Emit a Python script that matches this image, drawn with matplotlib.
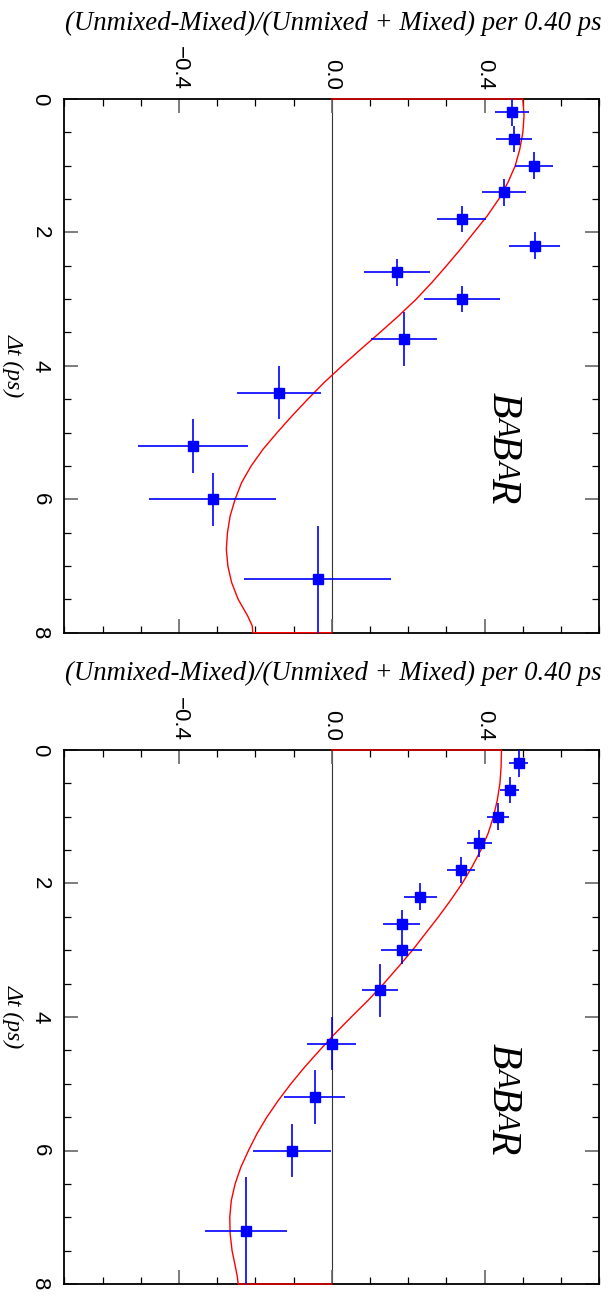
import numpy as np
import matplotlib
matplotlib.use("Agg")
import matplotlib.pyplot as plt
from matplotlib.ticker import MultipleLocator, FixedLocator
from matplotlib.transforms import IdentityTransform

# Delta t bins (ps): centres and half widths
dt_bins = [0.2, 0.6, 1.0, 1.4, 1.8, 2.2, 2.6, 3.0, 3.6, 4.4, 5.2, 6.0, 7.2]
dt_half = [0.2, 0.2, 0.2, 0.2, 0.2, 0.2, 0.2, 0.2, 0.4, 0.4, 0.4, 0.4, 0.8]

# upper panel: asymmetry and its error
asym_1 = [0.472, 0.477, 0.529, 0.450, 0.340, 0.531, 0.170, 0.341, 0.189,
          -0.138, -0.364, -0.312, -0.037]
err_1 = [0.045, 0.047, 0.050, 0.057, 0.064, 0.067, 0.086, 0.100, 0.087,
         0.110, 0.144, 0.167, 0.192]

# lower panel
asym_2 = [0.489, 0.466, 0.436, 0.386, 0.338, 0.232, 0.183, 0.183, 0.126,
          0.000, -0.045, -0.104, -0.224]
err_2 = [0.024, 0.025, 0.029, 0.033, 0.037, 0.042, 0.049, 0.054, 0.046,
         0.064, 0.080, 0.101, 0.108]

# fit curves
fit_t_1 = [0.0, 0.25, 0.5, 0.75, 1.0, 1.25, 1.5, 1.75, 2.0, 2.25, 2.5, 2.75,
           3.0, 3.25, 3.5, 3.75, 4.0, 4.25, 4.5, 4.75, 5.0, 5.25, 5.5, 5.75,
           6.0, 6.25, 6.5, 6.75, 7.0, 7.25, 7.5, 7.75, 7.9, 8.0]
fit_1 = [0.500, 0.503, 0.500, 0.492, 0.480, 0.461, 0.437, 0.407, 0.372,
         0.337, 0.300, 0.262, 0.221, 0.175, 0.126, 0.076, 0.027, -0.020,
         -0.063, -0.104, -0.143, -0.180, -0.211, -0.236, -0.253, -0.266,
         -0.273, -0.276, -0.272, -0.262, -0.245, -0.220, -0.208, -0.207]

fit_t_2 = [0.0, 0.25, 0.5, 0.75, 1.0, 1.25, 1.5, 1.75, 2.0, 2.25, 2.5, 2.75,
           3.0, 3.25, 3.5, 3.75, 4.0, 4.25, 4.5, 4.75, 5.0, 5.25, 5.5, 5.75,
           6.0, 6.25, 6.5, 6.75, 7.0, 7.25, 7.5, 7.75, 7.9, 8.0]
fit_2 = [0.444, 0.443, 0.440, 0.433, 0.423, 0.409, 0.390, 0.367, 0.341,
         0.311, 0.279, 0.245, 0.211, 0.174, 0.136, 0.095, 0.051, 0.008,
         -0.032, -0.071, -0.107, -0.140, -0.170, -0.196, -0.218, -0.238,
         -0.253, -0.263, -0.267, -0.266, -0.261, -0.252, -0.247, -0.245]

title = "(Unmixed-Mixed)/(Unmixed + Mixed) per 0.40 ps"

plt.rcParams['font.family'] = ['Liberation Sans', 'DejaVu Sans']
W, H = 612, 1304
fig = plt.figure(figsize=(W / 100, H / 100), dpi=100)


def draw_panel(rect, asym, err, fit_t, fit_a):
    ax = fig.add_axes(rect)
    ax.axvline(0, color='#333333', lw=0.8, zorder=1)
    # fit line, closed to zero at both ends like the original histogram style
    ax.plot(np.r_[0, fit_a, 0], np.r_[fit_t[0], fit_t, fit_t[-1]],
            color='red', lw=1.0, zorder=3, clip_on=False)
    ax.errorbar(asym, dt_bins, xerr=err, yerr=dt_half, fmt='s', color='blue',
                ms=7.5, lw=1.2, capsize=0, zorder=4)
    ax.set_xlim(-0.7, 0.7)
    ax.set_ylim(8, 0)
    ax.xaxis.set_major_locator(FixedLocator([-0.4, 0.0, 0.4]))
    ax.xaxis.set_minor_locator(MultipleLocator(0.1))
    ax.yaxis.set_major_locator(MultipleLocator(2))
    ax.yaxis.set_minor_locator(MultipleLocator(0.5))
    ax.tick_params(which='both', direction='in', top=True, bottom=True,
                   left=True, right=True, labeltop=True, labelbottom=False,
                   labelsize=16)
    ax.tick_params(which='major', length=10, width=1.2, color='#666666')
    ax.tick_params(which='minor', length=5, width=0.9, color='black')
    ax.tick_params(axis='x', which='major', pad=6.5, labelrotation=-90)
    ax.tick_params(axis='y', which='major', pad=10, labelrotation=-90)
    for lbl in ax.get_yticklabels():
        lbl.set_va('center')
    for s in ax.spines.values():
        s.set_linewidth(1.3)
        s.set_zorder(2.5)
    return ax


def babar(ax):
    r = fig.canvas.get_renderer()
    x0, y0 = ax.transAxes.transform((0.855, 0.4516))
    y = y0
    for ch, size in [('B', 30), ('A', 22), ('B', 30), ('A', 22), ('R', 30)]:
        t = ax.text(x0, y, ch, transform=IdentityTransform(), rotation=-90,
                    ha='right', va='top', fontsize=size, style='italic',
                    family='Liberation Serif')
        bb = t.get_window_extent(renderer=r)
        y -= bb.height * 0.97


panels = [
    ([64.3 / W, 1 - 632.7 / H, 535 / W, 533.7 / H], asym_1, err_1, fit_t_1, fit_1, 23),
    ([64.3 / W, 1 - 1284 / H, 535 / W, 534 / H], asym_2, err_2, fit_t_2, fit_2, 673),
]

for rect, asym, err, ft, fa, ty in panels:
    ax = draw_panel(rect, asym, err, ft, fa)
    fig.text(65 / W, 1 - ty / H, title, ha='left', va='center', fontsize=19.3,
             style='italic', family='Liberation Serif')
    fig.text(13 / W, rect[1] + rect[3] / 2, "Δt (ps)", rotation=-90,
             ha='center', va='center', fontsize=17, style='italic',
             family='Liberation Serif')
    babar(ax)

fig.savefig("out.png", dpi=100)
